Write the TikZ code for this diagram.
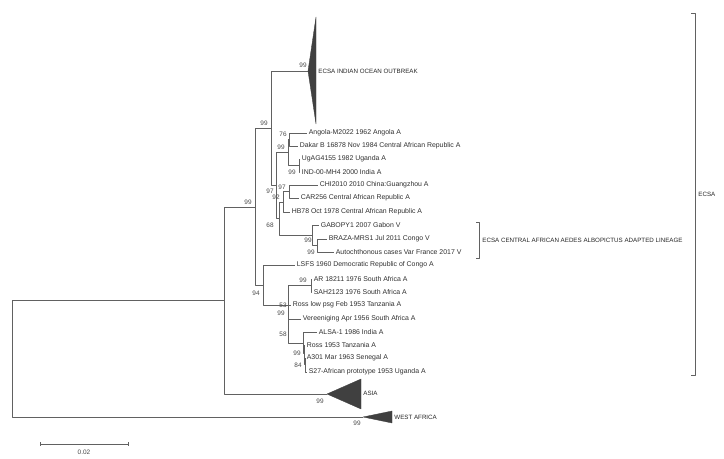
\documentclass[tikz,border=0pt]{standalone}
\usepackage{fontspec}
\setmainfont{Liberation Sans}
\begin{document}
\begin{tikzpicture}[x=0.03cm,y=-0.03cm,font=\fontsize{5.9pt}{7pt}\selectfont, line join=round]
\tikzset{branch/.style={draw=black!62,line width=0.55pt},
leaf/.style={anchor=west,inner sep=1.4pt,text=black!82},
boot/.style={inner sep=0pt,text=black!72,font=\fontsize{5.5pt}{6pt}\selectfont},
clade/.style={fill=black!75,draw=black!75,line width=0.3pt},
cladelbl/.style={anchor=west,inner sep=1pt,text=black!85,font=\fontsize{5.3pt}{6pt}\selectfont}}
\useasboundingbox (0,0) rectangle (724,459);
% internal nodes
\coordinate (root) at (12,358.5);
\coordinate (inner) at (224,300.5);
\coordinate (ecsa) at (255,207);
\coordinate (upper) at (271,128);
\coordinate (lower) at (263,285);
\coordinate (rgrp) at (276,185);
\coordinate (ang) at (288,152);
\coordinate (angdak) at (289,139.5);
\coordinate (ugind) at (299,165.5);
\coordinate (tgrp) at (279,218.5);
\coordinate (chigrp) at (283,202);
\coordinate (chicar) at (289,191.5);
\coordinate (gab) at (312,235);
\coordinate (braut) at (317,245.5);
\coordinate (sa) at (288,305);
\coordinate (arsah) at (311,285.5);
\coordinate (alsag) at (303,343);
\coordinate (rossh) at (304,353.5);
\coordinate (afsg) at (305,364);
% collapsed clades
\coordinate (iol) at (308,71);
\coordinate (asia) at (327,394);
\coordinate (wafr) at (363,417);
% leaves
\foreach \nm/\x/\y/\t in {angola/307/133/Angola-M2022 1962 Angola A,
dakar/298/146/Dakar B 16878 Nov 1984 Central African Republic A,
ugag/300/159/UgAG4155 1982 Uganda A,
ind/300/172/IND-00-MH4 2000 India A,
chi/318/185/CHI2010 2010 China:Guangzhou A,
car/299/198/CAR256 Central African Republic A,
hb/290/212/HB78 Oct 1978 Central African Republic A,
gabopy/319/225/GABOPY1 2007 Gabon V,
braza/327/239/BRAZA-MRS1 Jul 2011 Congo V,
autoch/334/252/Autochthonous cases Var France 2017 V,
lsfs/295/265/LSFS 1960 Democratic Republic of Congo A,
ar/312/279/AR 18211 1976 South Africa A,
sah/312/292/SAH2123 1976 South Africa A,
rosslow/291/305/Ross low psg Feb 1953 Tanzania A,
veren/301/319/Vereeniging Apr 1956 South Africa A,
alsa/317/332/ALSA-1 1986 India A,
ross/305/345/Ross 1953 Tanzania A,
afr/305/358/A301 Mar 1963 Senegal A,
sprot/307/372/S27-African prototype 1953 Uganda A}
{\coordinate (\nm) at (\x,\y); \node[leaf] (t-\nm) at (\nm) {\t};}
% branches
\foreach \p/\c in {root/inner,root/wafr,inner/ecsa,inner/asia,ecsa/upper,ecsa/lower,
upper/iol,upper/rgrp,rgrp/ang,rgrp/tgrp,ang/angdak,ang/ugind,angdak/angola,angdak/dakar,
ugind/ugag,ugind/ind,tgrp/chigrp,tgrp/gab,chigrp/chicar,chigrp/hb,chicar/chi,chicar/car,
gab/gabopy,gab/braut,braut/braza,braut/autoch,lower/lsfs,lower/sa,sa/arsah,sa/rosslow,
sa/veren,sa/alsag,arsah/ar,arsah/sah,alsag/alsa,alsag/rossh,rossh/ross,rossh/afsg,
afsg/afr,afsg/sprot}
\draw[branch] (\p) |- (\c);
% triangles
\filldraw[clade] (iol) -- (316,17) -- (316,124) -- cycle;
\filldraw[clade] (asia) -- (361,379) -- (361,409) -- cycle;
\filldraw[clade] (wafr) -- (392,411) -- (392,423) -- cycle;
\node[cladelbl] (l-iol) at (317,71) {ECSA INDIAN OCEAN OUTBREAK};
\node[cladelbl] (l-asia) at (362,393) {ASIA};
\node[cladelbl] (l-wafr) at (393,417) {WEST AFRICA};
% bootstrap values
\foreach \v/\x/\y [count=\k] in {99/303/65,99/264/123,99/248/202,76/283/134,99/281/147,
99/292/172,97/270/191,97/282/187,92/276/197,68/270/225,99/308/240,99/311/252,94/256/293,
99/303/280,53/283/305,99/281/313,58/283/334,99/297/353,84/298/365,99/320/401,99/357/423}
\node[boot] (bs\k) at (\x,\y) {\v};
% brackets
\draw[branch] (476,222) -- (479,222) -- (479,258) -- (476,258);
\node[cladelbl] (l-caal) at (481,240) {ECSA CENTRAL AFRICAN AEDES ALBOPICTUS ADAPTED LINEAGE};
\draw[branch] (691,13) -- (695,13) -- (695,375) -- (691,375);
\node[cladelbl] (l-ecsa) at (697,194) {ECSA};
% scale bar
\draw[branch] (40,442) -- (40,446) (40,444) -- (128,444) (128,442) -- (128,446);
\node[boot] (sc) at (84,452) {0.02};
\end{tikzpicture}
\end{document}
